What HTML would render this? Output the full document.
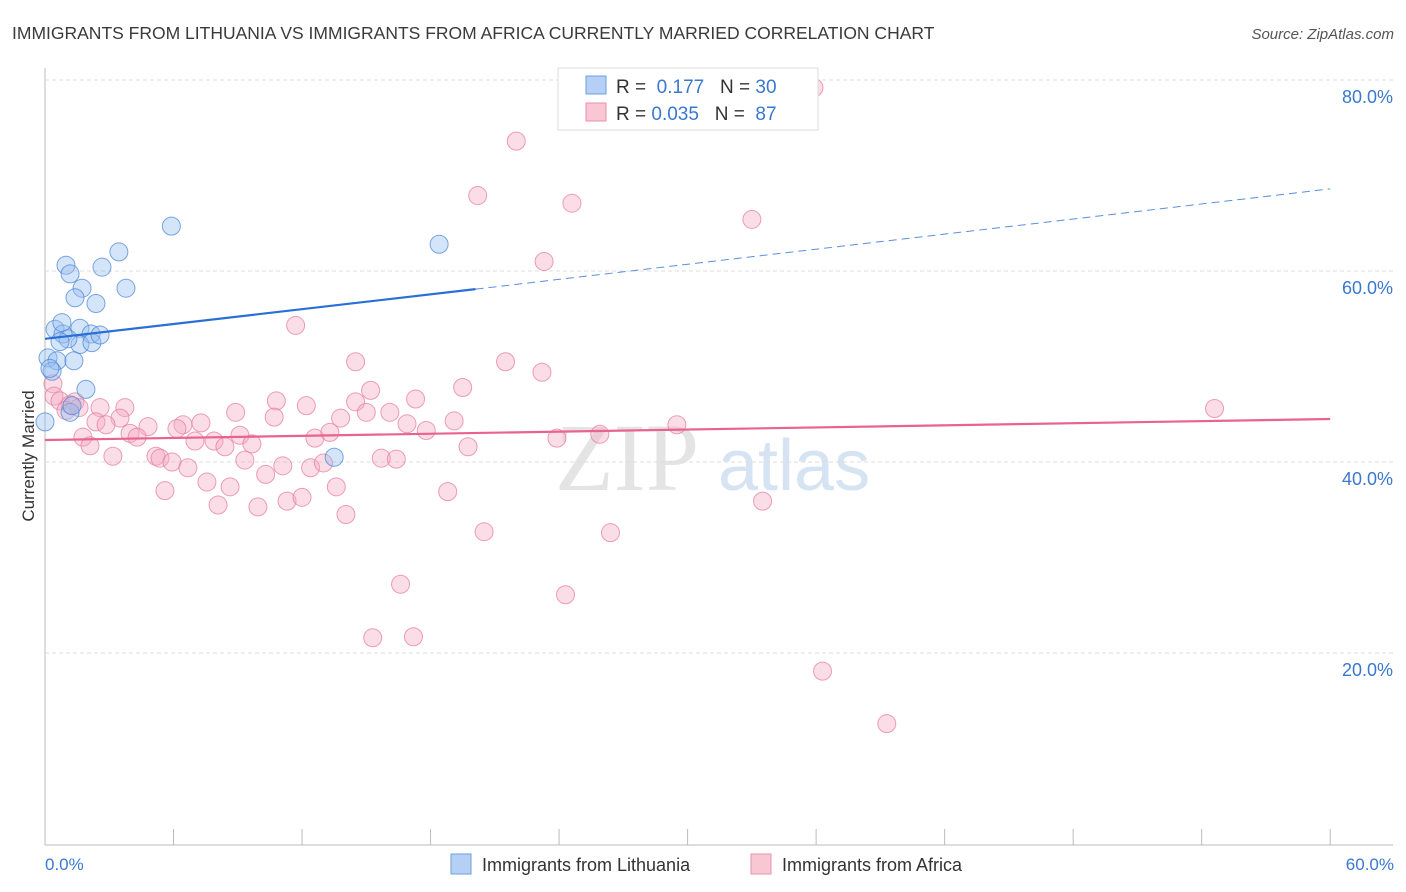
<!DOCTYPE html>
<html><head><meta charset="utf-8"><style>
body{margin:0;background:#fff;font-family:"Liberation Sans",sans-serif;}
svg{display:block}
</style></head><body>
<svg id="c" width="1406" height="892">
<text x="12" y="39" font-size="17.5" fill="#3a3a3a">IMMIGRANTS FROM LITHUANIA VS IMMIGRANTS FROM AFRICA CURRENTLY MARRIED CORRELATION CHART</text>
<text x="1394" y="39" font-size="15" fill="#555" text-anchor="end" font-style="italic">Source: ZipAtlas.com</text>
<text x="34" y="456" font-size="17" fill="#333" text-anchor="middle" transform="rotate(-90 34 456)">Currently Married</text>
<text x="555" y="490" font-size="96" fill="#e4e4e4" font-family="Liberation Serif,serif">ZIP</text>
<text x="718" y="490" font-size="72" fill="#d6e3f3">atlas</text>
<g id="grid"></g><g id="pts"></g><g id="lines"></g>
<g>
<rect x="558" y="68" width="260" height="62" fill="#fff" stroke="#ddd"/>
<rect x="586" y="76" width="20" height="18" fill="#b6d0f5" stroke="#6d9fe0"/>
<rect x="586" y="103" width="20" height="18" fill="#f9c6d4" stroke="#e98fab"/>
<text x="616" y="93" font-size="19" fill="#333">R = <tspan fill="#3a78d0">&#160;0.177</tspan>&#160;&#160;&#160;N = <tspan fill="#3a78d0">30</tspan></text>
<text x="616" y="120" font-size="19" fill="#333">R = <tspan fill="#3a78d0">0.035</tspan>&#160;&#160;&#160;N = <tspan fill="#3a78d0">&#160;87</tspan></text>
</g>
<text x="45" y="870" font-size="17" fill="#3a78d0">0.0%</text>
<text x="1394" y="870" font-size="17" fill="#3a78d0" text-anchor="end">60.0%</text>
<g><rect x="451" y="854" width="20" height="20" fill="#b6d0f5" stroke="#6d9fe0"/><text x="482" y="871" font-size="18" fill="#333">Immigrants from Lithuania</text></g>
<g><rect x="751" y="854" width="20" height="20" fill="#f9c6d4" stroke="#e98fab"/><text x="782" y="871" font-size="18" fill="#333">Immigrants from Africa</text></g>
</svg>
<script>
const yTicks=[20,40,60,80];
const blueX=[5.9,18.4,0.98,1.17,2.66,3.45,1.73,3.78,1.4,2.38,0.47,0.84,1.63,2.15,1.63,2.19,0.79,1.07,0.14,0.56,1.35,0.33,1.91,1.17,13.5,0.0,0.23,0.7,1.26,2.57];
const blueY=[64.7,62.8,60.6,59.7,60.4,62.0,58.2,58.2,57.2,56.6,53.9,53.4,54.0,53.4,52.3,52.5,54.6,52.9,50.9,50.6,50.6,49.5,47.6,45.2,40.5,44.2,49.8,52.6,45.9,53.3];
const pinkX=[35.9,22.0,20.2,24.6,33.0,23.3,11.7,14.5,21.5,23.2,19.5,15.2,0.37,0.42,0.7,1.17,1.4,0.98,1.59,2.57,3.73,10.8,12.2,14.5,17.3,8.9,10.7,3.5,2.38,2.85,4.81,6.44,7.28,6.16,15.0,16.1,13.8,16.9,17.8,19.1,12.6,13.3,9.1,3.97,4.3,1.77,2.1,7.0,7.89,8.4,9.66,19.75,23.9,25.9,29.5,54.6,3.17,5.18,5.37,5.93,6.67,9.33,10.3,11.1,12.4,13.0,15.7,16.4,7.56,8.64,5.6,11.3,12.0,13.6,18.8,8.08,9.94,14.05,20.5,26.4,33.5,16.6,24.3,15.3,17.2,36.3,39.3];
const pinkY=[79.2,73.6,67.9,67.1,65.4,61.0,54.3,50.5,50.5,49.4,47.8,47.5,48.2,46.9,46.4,46.0,46.3,45.4,45.7,45.7,45.7,46.4,45.9,46.3,46.6,45.2,44.7,44.6,44.2,43.9,43.7,43.9,44.1,43.5,45.2,45.2,44.6,44.0,43.3,44.3,42.5,43.1,42.8,43.0,42.6,42.6,41.7,42.2,42.2,41.6,41.9,41.6,42.5,42.9,43.9,45.6,40.6,40.6,40.4,40.0,39.4,40.2,38.7,39.6,39.4,39.9,40.4,40.3,37.9,37.4,37.0,35.9,36.3,37.4,36.9,35.5,35.3,34.5,32.7,32.6,35.9,27.2,26.1,21.6,21.7,18.1,12.6];
const blueFit=[52.9,58.1,68.6]; const blueFitX=[0,20.1,60];
const pinkFit=[42.3,44.5]; const pinkFitX=[0,60];
const X=v=>45+v*21.42, Y=v=>844-v*9.55;
const NS="http://www.w3.org/2000/svg";
function mk(t,a,p){const e=document.createElementNS(NS,t);for(const k in a)e.setAttribute(k,a[k]);p.appendChild(e);return e;}
const grid=document.getElementById('grid');
const ax=mk('line',{x1:45,y1:68,x2:45,y2:845,stroke:'#bbb'},grid);


const bx=mk('line',{x1:45,y1:845,x2:1393,y2:845,stroke:'#bbb'},grid);


for(let i=0;i<=10;i++){const t=mk('line',{x1:X(i*6),x2:X(i*6),y1:829,y2:845,stroke:'#bbb'},grid);

}
yTicks.forEach(v=>{const g=mk('line',{x1:45,x2:1393,y1:Y(v),y2:Y(v),stroke:'#ddd','stroke-dasharray':'4,3'},grid);


const t=mk('text',{x:1393,y:Y(v)+23,'font-size':18,fill:'#3a78d0','text-anchor':'end'},grid);t.textContent=v.toFixed(1)+'%';

});
const pts=document.getElementById('pts');
pinkX.forEach((x,i)=>{const c=mk('circle',{cx:X(x),cy:Y(pinkY[i]),r:9,fill:'rgba(246,170,195,0.4)',stroke:'rgba(230,120,155,0.7)','stroke-width':1},pts);

});
blueX.forEach((x,i)=>{const c=mk('circle',{cx:X(x),cy:Y(blueY[i]),r:9,fill:'rgba(150,190,240,0.4)',stroke:'rgba(70,130,215,0.7)','stroke-width':1},pts);

});
const L=document.getElementById('lines');
const b1=mk('line',{x1:X(blueFitX[0]),y1:Y(blueFit[0]),x2:X(blueFitX[1]),y2:Y(blueFit[1]),stroke:'#2a6fd6','stroke-width':2.2},L);


const b2=mk('line',{x1:X(blueFitX[1]),y1:Y(blueFit[1]),x2:X(blueFitX[2]),y2:Y(blueFit[2]),stroke:'#5b8fd9','stroke-width':1,'stroke-dasharray':'8,5'},L);


const p1=mk('line',{x1:X(pinkFitX[0]),y1:Y(pinkFit[0]),x2:X(pinkFitX[1]),y2:Y(pinkFit[1]),stroke:'#e8638e','stroke-width':2.2},L);


</script>
</body></html>
